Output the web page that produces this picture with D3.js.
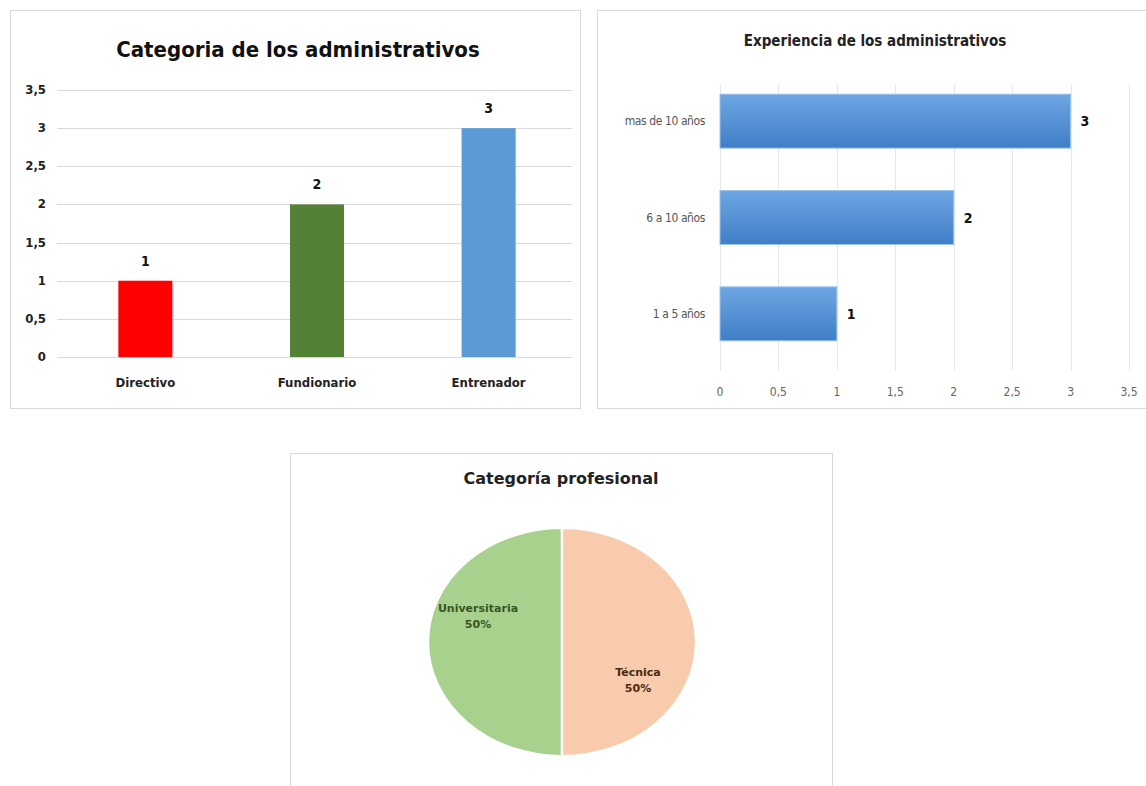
<!DOCTYPE html>
<html>
<head>
<meta charset="utf-8">
<script src="https://cdn.jsdelivr.net/npm/d3@7"></script>
<style>
  body { margin: 0; background: #fff; }
  svg { display: block; }
</style>
</head>
<body>
<svg id="chart" width="1146" height="786"></svg>
<script>
// ---------------------------------------------------
// data
// ---------------------------------------------------
var catLabels = ["Directivo", "Fundionario", "Entrenador"]
var catValues = [1, 2, 3]
var catColors = ["#ff0000", "#538135", "#5b9bd5"]

var expLabels = ["mas de 10 años", "6 a 10 años", "1 a 5 años"]
var expValues = [3, 2, 1]

var profLabels = ["Universitaria", "Técnica"]
var profValues = [50, 50]
var profColors = ["#a9d18e", "#f8cbad"]
var profTextColors = ["#375623", "#4a2a10"]

var ticks = [0, 0.5, 1, 1.5, 2, 2.5, 3, 3.5]
var fmt = function (d) { return String(d).replace(".", ",") }

var font = "'DejaVu Sans Condensed', 'DejaVu Sans', sans-serif"
var svg = d3.select("#chart")

// panel frames
var frames = [
    { x: 10, y: 10, w: 570, h: 398 },
    { x: 597, y: 10, w: 560, h: 398 },
    { x: 290, y: 453, w: 542, h: 345 }
]
svg.selectAll(".frame")
    .data(frames)
    .enter()
    .append("rect")
    .attr("x", d => d.x + 0.5).attr("y", d => d.y + 0.5)
    .attr("width", d => d.w).attr("height", d => d.h)
    .style("fill", "#fff")
    .style("stroke", "#d9d9d9")

//------------------------------------------
// chart 1: vertical bars
//------------------------------------------
var g1 = svg.append("g")
var x1 = d3.scaleBand().domain(catLabels).range([60, 574]).paddingInner(0.685).paddingOuter(0.34)
var y1 = d3.scaleLinear().domain([0, 3.5]).range([357, 90])

g1.append("text")
    .attr("x", 298).attr("y", 57)
    .attr("text-anchor", "middle")
    .style("font-family", font).style("font-size", "22px").style("font-weight", "bold")
    .style("fill", "#111")
    .text("Categoria de los administrativos")

g1.selectAll(".grid1")
    .data(ticks)
    .enter()
    .append("line")
    .attr("x1", 57).attr("x2", 572)
    .attr("y1", d => Math.round(y1(d)) + 0.5).attr("y2", d => Math.round(y1(d)) + 0.5)
    .style("stroke", "#d9d9d9").style("stroke-width", "1px")

g1.selectAll(".ytick1")
    .data(ticks)
    .enter()
    .append("text")
    .attr("x", 46).attr("y", d => y1(d) + 4)
    .attr("text-anchor", "end")
    .style("font-family", font).style("font-size", "13px").style("font-weight", "bold")
    .style("fill", "#222")
    .text(fmt)

g1.selectAll(".bar1")
    .data(catValues)
    .enter()
    .append("rect")
    .attr("x", (d, i) => x1(catLabels[i]))
    .attr("y", d => y1(d))
    .attr("width", x1.bandwidth())
    .attr("height", d => y1(0) - y1(d))
    .style("fill", (d, i) => catColors[i])

g1.selectAll(".val1")
    .data(catValues)
    .enter()
    .append("text")
    .attr("x", (d, i) => x1(catLabels[i]) + x1.bandwidth() / 2)
    .attr("y", d => y1(d) - 15)
    .attr("text-anchor", "middle")
    .style("font-family", font).style("font-size", "14px").style("font-weight", "bold")
    .style("fill", "#111")
    .text(d => d)

g1.selectAll(".xlab1")
    .data(catLabels)
    .enter()
    .append("text")
    .attr("x", d => x1(d) + x1.bandwidth() / 2)
    .attr("y", 387)
    .attr("text-anchor", "middle")
    .style("font-family", font).style("font-size", "13px").style("font-weight", "bold")
    .style("fill", "#222")
    .text(d => d)

//------------------------------------------
// chart 2: horizontal bars
//------------------------------------------
var g2 = svg.append("g")
var x2 = d3.scaleLinear().domain([0, 3.5]).range([720, 1129])
var y2 = d3.scaleBand().domain(expLabels).range([73, 362]).paddingInner(0.44).paddingOuter(0.22)

var defs = svg.append("defs")
var grad = defs.append("linearGradient").attr("id", "barGrad")
    .attr("x1", 0).attr("y1", 0).attr("x2", 0).attr("y2", 1)
grad.append("stop").attr("offset", "0%").attr("stop-color", "#6ea6e3")
grad.append("stop").attr("offset", "100%").attr("stop-color", "#3f7ec6")

g2.append("text")
    .attr("x", 875).attr("y", 46)
    .attr("text-anchor", "middle")
    .style("font-family", font).style("font-size", "15px").style("font-weight", "bold")
    .style("fill", "#222")
    .text("Experiencia de los administrativos")

g2.selectAll(".grid2")
    .data(ticks)
    .enter()
    .append("line")
    .attr("x1", d => Math.round(x2(d)) + 0.5).attr("x2", d => Math.round(x2(d)) + 0.5)
    .attr("y1", 85).attr("y2", 370)
    .style("stroke", "#e6e6e6").style("stroke-width", "1px")

g2.selectAll(".xtick2")
    .data(ticks)
    .enter()
    .append("text")
    .attr("x", d => x2(d)).attr("y", 396)
    .attr("text-anchor", "middle")
    .style("font-family", font).style("font-size", "12px")
    .style("fill", "#666")
    .text(fmt)

g2.selectAll(".bar2")
    .data(expValues)
    .enter()
    .append("rect")
    .attr("x", x2(0))
    .attr("y", (d, i) => y2(expLabels[i]))
    .attr("width", d => x2(d) - x2(0))
    .attr("height", y2.bandwidth())
    .style("fill", "url(#barGrad)")
    .style("stroke", "#9cc3ec").style("stroke-width", "1px")

g2.selectAll(".ylab2")
    .data(expLabels)
    .enter()
    .append("text")
    .attr("x", 705)
    .attr("y", d => y2(d) + y2.bandwidth() / 2 + 4)
    .attr("text-anchor", "end")
    .style("font-family", font).style("font-size", "12px")
    .style("fill", "#555").style("letter-spacing", "-0.4px")
    .text(d => d)

g2.selectAll(".val2")
    .data(expValues)
    .enter()
    .append("text")
    .attr("x", d => x2(d) + 10)
    .attr("y", (d, i) => y2(expLabels[i]) + y2.bandwidth() / 2 + 5)
    .style("font-family", font).style("font-size", "14px").style("font-weight", "bold")
    .style("fill", "#111")
    .text(d => d)

//------------------------------------------
// chart 3: pie
//------------------------------------------
var g3 = svg.append("g")
var cx = 562, cy = 642, rx = 134, ry = 114

g3.append("text")
    .attr("x", 561).attr("y", 484)
    .attr("text-anchor", "middle")
    .style("font-family", "'DejaVu Sans', sans-serif").style("font-size", "16px").style("font-weight", "bold")
    .style("fill", "#222")
    .text("Categoría profesional")

var pie = d3.pie()
    .value(d => d)
    .startAngle(Math.PI)
    .endAngle(3 * Math.PI)
    .sort(null)
var arc = d3.arc().innerRadius(0).outerRadius(ry)

g3.append("g")
    .attr("transform", "translate(" + cx + "," + cy + ") scale(" + (rx / ry) + ",1)")
    .selectAll("path")
    .data(pie(profValues))
    .enter()
    .append("path")
    .attr("d", arc)
    .style("fill", (d, i) => profColors[i])
    .style("stroke", "#fff").style("stroke-width", "2px")

var labelPos = [[-84, -30], [76, 34]]
var lab = g3.selectAll(".lab3")
    .data(profLabels)
    .enter()
    .append("text")
    .attr("text-anchor", "middle")
    .attr("transform", (d, i) => "translate(" + (cx + labelPos[i][0]) + "," + (cy + labelPos[i][1]) + ")")
    .style("font-family", "'DejaVu Sans', sans-serif").style("font-size", "11px").style("font-weight", "bold")
    .style("fill", (d, i) => profTextColors[i])
lab.append("tspan").attr("x", 0).attr("y", 0).text(d => d)
lab.append("tspan").attr("x", 0).attr("y", 16).text((d, i) => profValues[i] + "%")
</script>
</body>
</html>
